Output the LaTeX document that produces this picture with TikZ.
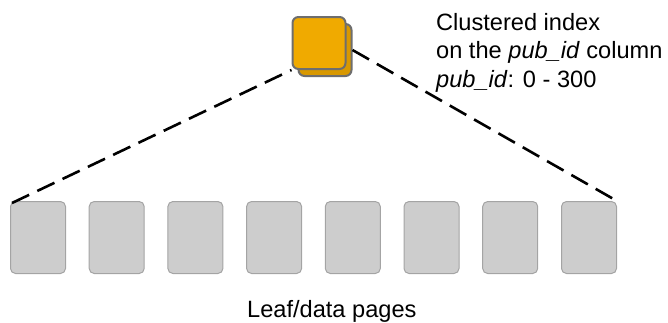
\documentclass[tikz,border=0pt]{standalone}
\usepackage{fontspec}
\setmainfont{Liberation Sans}
\definecolor{idxorange}{HTML}{F0AA00}
\definecolor{idxdark}{HTML}{D89800}
\definecolor{idxborder}{HTML}{6E6E6E}
\definecolor{pagefill}{HTML}{CDCDCD}
\definecolor{pageborder}{HTML}{A4A4A4}
\begin{document}
\begin{tikzpicture}[x=1pt,y=-1pt,
  pagebox/.style={draw=pageborder,line width=1pt,fill=pagefill,rounded corners=5pt,
    minimum width=55pt,minimum height=72pt,inner sep=0pt,anchor=north west},
  idxbox/.style={draw=idxborder,line width=2pt,rounded corners=6pt,
    minimum width=53pt,minimum height=52pt,inner sep=0pt,anchor=north west},
  dashline/.style={line width=2.6pt,dash pattern=on 19pt off 9pt},
  lbl/.style={font=\fontsize{23.6}{28.5}\selectfont,align=left,inner sep=0pt}]
\useasboundingbox (0,0) rectangle (668,322);
\foreach \i [count=\n] in {10,88.7,167.4,246.1,324.8,403.5,482.2,561}
  \node[pagebox] (p\n) at (\i,201) {};
\node[idxbox,fill=idxdark] (idxb) at (297.5,23) {};
\node[idxbox,fill=idxorange] (idx) at (291.5,16) {};
\draw[dashline] (p1.north west) ++(2pt,-2pt) coordinate (l0) (l0) -- (idx.south west);
\draw[dashline] (idxb.east) -- (p8.north east);
\node[lbl,anchor=base west] (cap) at (436,87) {Clustered index\\on the \textit{pub\_id} column\\\textit{pub\_id}: 0 - 300};
\node[lbl,anchor=base west] (leaf) at (247,317) {Leaf/data pages};
\end{tikzpicture}
\end{document}
